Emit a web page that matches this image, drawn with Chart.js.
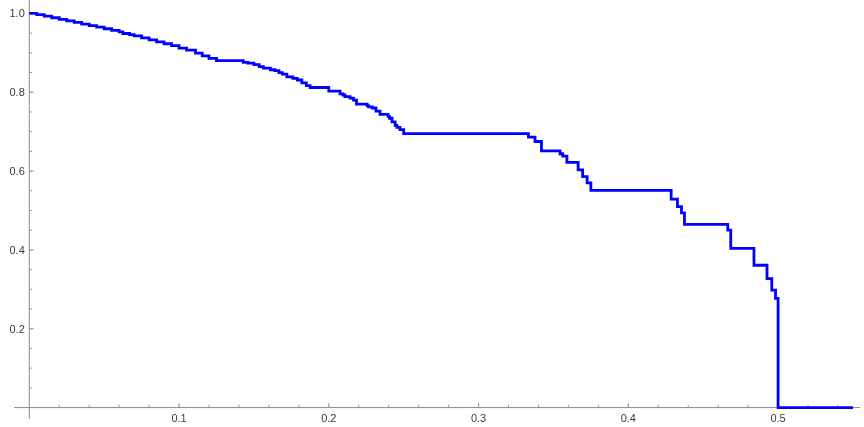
<!DOCTYPE html>
<html>
<head>
<meta charset="utf-8">
<script src="https://cdn.jsdelivr.net/npm/chart.js@4"></script>
<style>
html,body{margin:0;padding:0;background:#fff;}
#c{display:block;}
</style>
</head>
<body>
<canvas id="c" width="864" height="427"></canvas>
<script>
// Step breakpoints (x) and the value held from each breakpoint onward (y)
const stepX = [0, 0.005, 0.01, 0.015, 0.02, 0.025, 0.03, 0.035, 0.04, 0.045, 0.05, 0.055, 0.06, 0.0625,
  0.067, 0.07, 0.075, 0.08, 0.085, 0.09, 0.095, 0.1, 0.105, 0.111, 0.1155, 0.12, 0.125,
  0.1429, 0.146, 0.15, 0.1535, 0.1563, 0.161, 0.164, 0.1667, 0.169, 0.172, 0.176, 0.179, 0.182, 0.185, 0.1875,
  0.2, 0.2075, 0.2095, 0.2108, 0.2142, 0.2165, 0.2185, 0.2256, 0.2265, 0.229, 0.2315, 0.2342, 0.2396, 0.2405,
  0.2422, 0.2443, 0.2455, 0.2475, 0.25,
  0.3333, 0.3377, 0.342, 0.3544, 0.3562, 0.359, 0.3665, 0.3695, 0.3725, 0.375,
  0.4286, 0.4328, 0.4355, 0.4375, 0.4664, 0.4684, 0.4839, 0.4926, 0.4958, 0.4983, 0.5, 0.55];
const stepY = [1.000, 0.997, 0.993, 0.989, 0.985, 0.981, 0.977, 0.973, 0.969, 0.965, 0.961, 0.957, 0.953, 0.949,
  0.946, 0.943, 0.938, 0.933, 0.928, 0.923, 0.918, 0.912, 0.907, 0.899, 0.892, 0.886, 0.880,
  0.876, 0.874, 0.870, 0.865, 0.861, 0.857, 0.855, 0.850, 0.846, 0.839, 0.835, 0.831, 0.824, 0.817, 0.812,
  0.803, 0.796, 0.793, 0.789, 0.785, 0.780, 0.770, 0.766, 0.763, 0.760, 0.752, 0.744, 0.739, 0.734,
  0.725, 0.716, 0.711, 0.705, 0.695,
  0.686, 0.675, 0.651, 0.644, 0.638, 0.622, 0.603, 0.586, 0.570, 0.551,
  0.529, 0.510, 0.494, 0.465, 0.450, 0.404, 0.361, 0.327, 0.298, 0.277, 0.0, 0.0];

// Axis ticks
const xMajorTicks = [0.1, 0.2, 0.3, 0.4, 0.5];
const xTickLabels = ['0.1', '0.2', '0.3', '0.4', '0.5'];
const yMajorTicks = [0.2, 0.4, 0.6, 0.8, 1.0];
const yTickLabels = ['0.2', '0.4', '0.6', '0.8', '1.0'];
const xMinorStep = 0.02;
const yMinorStep = 0.05;

const points = stepX.map((x, i) => ({x: x, y: stepY[i]}));

const originAxes = {
  id: 'originAxes',
  beforeDatasetsDraw(chart) {
    const ctx = chart.ctx;
    const xs = chart.scales.x, ys = chart.scales.y;
    const ca = chart.chartArea;
    const x0 = xs.getPixelForValue(0);
    const y0 = ys.getPixelForValue(0);
    ctx.save();
    ctx.strokeStyle = '#8c8c8c';
    ctx.lineWidth = 1;
    ctx.beginPath();
    ctx.moveTo(ca.left, y0); ctx.lineTo(ca.right, y0);
    ctx.moveTo(x0, ca.top); ctx.lineTo(x0, ca.bottom);
    ctx.stroke();
    ctx.strokeStyle = '#9a9a9a';
    ctx.beginPath();
    for (let k = 1; k * xMinorStep <= xs.max + 1e-9; k++) {
      const v = k * xMinorStep;
      const px = xs.getPixelForValue(v);
      ctx.moveTo(px, y0); ctx.lineTo(px, y0 - 2.8);
    }
    xMajorTicks.forEach(v => {
      const px = xs.getPixelForValue(v);
      ctx.moveTo(px, y0); ctx.lineTo(px, y0 - 4.5);
    });
    for (let k = 1; k * yMinorStep <= ys.max + 1e-9; k++) {
      const v = k * yMinorStep;
      const py = ys.getPixelForValue(v);
      ctx.moveTo(x0, py); ctx.lineTo(x0 + 2.8, py);
    }
    yMajorTicks.forEach(v => {
      const py = ys.getPixelForValue(v);
      ctx.moveTo(x0, py); ctx.lineTo(x0 + 4.5, py);
    });
    ctx.stroke();
    ctx.fillStyle = '#3a3a3a';
    ctx.font = '11px "Liberation Sans", Arial, sans-serif';
    ctx.textAlign = 'center';
    ctx.textBaseline = 'alphabetic';
    xMajorTicks.forEach((v, i) => {
      ctx.fillText(xTickLabels[i], xs.getPixelForValue(v), y0 + 14);
    });
    ctx.textAlign = 'right';
    yMajorTicks.forEach((v, i) => {
      ctx.fillText(yTickLabels[i], x0 - 4.5, ys.getPixelForValue(v) + 4);
    });
    ctx.restore();
  }
};

new Chart(document.getElementById('c'), {
  type: 'line',
  data: {
    datasets: [{
      data: points,
      stepped: 'before',
      borderColor: '#0000ff',
      borderWidth: 2.8,
      borderJoinStyle: 'miter',
      borderCapStyle: 'butt',
      pointRadius: 0,
      fill: false,
      tension: 0
    }]
  },
  options: {
    responsive: false,
    animation: false,
    events: [],
    layout: { padding: { left: 14, right: 4, top: 0, bottom: 8 } },
    plugins: { legend: { display: false }, tooltip: { enabled: false } },
    scales: {
      x: { type: 'linear', display: false, min: -0.0102, max: 0.5547 },
      y: { type: 'linear', display: false, min: -0.029, max: 1.034 }
    }
  },
  plugins: [originAxes]
});
</script>
</body>
</html>
